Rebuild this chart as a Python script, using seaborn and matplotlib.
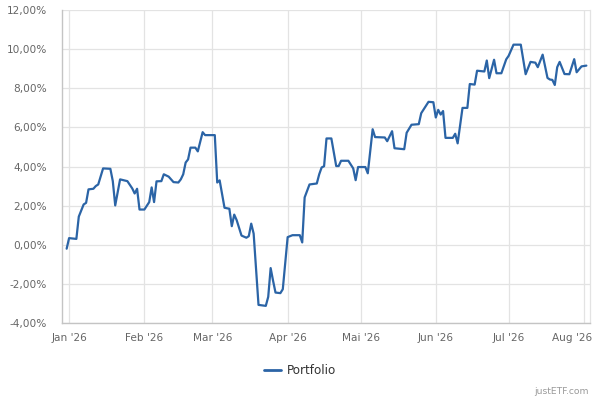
import matplotlib
matplotlib.use("Agg")
import matplotlib.pyplot as plt
import matplotlib.transforms as mtransforms
from matplotlib.ticker import FuncFormatter
from matplotlib.lines import Line2D
import pandas as pd
import seaborn as sns

dates = [
    "2025-12-31", "2026-01-01", "2026-01-04", "2026-01-05", "2026-01-07", "2026-01-08",
    "2026-01-09", "2026-01-11", "2026-01-12", "2026-01-13", "2026-01-15", "2026-01-18",
    "2026-01-19", "2026-01-20", "2026-01-22", "2026-01-25", "2026-01-27", "2026-01-28",
    "2026-01-29", "2026-01-30", "2026-02-01", "2026-02-03", "2026-02-04", "2026-02-05",
    "2026-02-06", "2026-02-08", "2026-02-09", "2026-02-11", "2026-02-13", "2026-02-15",
    "2026-02-16", "2026-02-17", "2026-02-18", "2026-02-19", "2026-02-20", "2026-02-22",
    "2026-02-23", "2026-02-25", "2026-02-26", "2026-03-02", "2026-03-03", "2026-03-04",
    "2026-03-06", "2026-03-08", "2026-03-09", "2026-03-10", "2026-03-11", "2026-03-13",
    "2026-03-15", "2026-03-16", "2026-03-17", "2026-03-18", "2026-03-20", "2026-03-23",
    "2026-03-24", "2026-03-25", "2026-03-26", "2026-03-27", "2026-03-29", "2026-03-30",
    "2026-04-01", "2026-04-03", "2026-04-06", "2026-04-07", "2026-04-08", "2026-04-10",
    "2026-04-13", "2026-04-14", "2026-04-15", "2026-04-16", "2026-04-17", "2026-04-19",
    "2026-04-21", "2026-04-22", "2026-04-23", "2026-04-26", "2026-04-28", "2026-04-29",
    "2026-04-30", "2026-05-03", "2026-05-04", "2026-05-06", "2026-05-07", "2026-05-11",
    "2026-05-12", "2026-05-14", "2026-05-15", "2026-05-19", "2026-05-20", "2026-05-22",
    "2026-05-25", "2026-05-26", "2026-05-27", "2026-05-29", "2026-05-31", "2026-06-01",
    "2026-06-02", "2026-06-03", "2026-06-04", "2026-06-05", "2026-06-08", "2026-06-09",
    "2026-06-10", "2026-06-12", "2026-06-14", "2026-06-15", "2026-06-17", "2026-06-18",
    "2026-06-21", "2026-06-22", "2026-06-23", "2026-06-25", "2026-06-26", "2026-06-28",
    "2026-06-30", "2026-07-01", "2026-07-03", "2026-07-06", "2026-07-08", "2026-07-10",
    "2026-07-12", "2026-07-13", "2026-07-15", "2026-07-17", "2026-07-18", "2026-07-19",
    "2026-07-20", "2026-07-21", "2026-07-22", "2026-07-24", "2026-07-26", "2026-07-28",
    "2026-07-29", "2026-07-31", "2026-08-02",
]

portfolio = [
    -0.19, 0.35, 0.31, 1.45, 2.07, 2.15,
    2.84, 2.87, 3.01, 3.09, 3.91, 3.89,
    3.26, 2.02, 3.35, 3.26, 2.89, 2.63,
    2.87, 1.81, 1.81, 2.19, 2.94, 2.19,
    3.25, 3.26, 3.61, 3.49, 3.21, 3.19,
    3.35, 3.61, 4.21, 4.37, 4.97, 4.97,
    4.78, 5.76, 5.61, 5.61, 3.19, 3.30,
    1.90, 1.85, 0.96, 1.55, 1.27, 0.48,
    0.37, 0.45, 1.09, 0.58, -3.06, -3.11,
    -2.65, -1.18, -1.83, -2.43, -2.46, -2.26,
    0.40, 0.50, 0.50, 0.13, 2.43, 3.09,
    3.14, 3.61, 3.96, 4.02, 5.44, 5.44,
    4.03, 4.03, 4.30, 4.30, 3.91, 3.31,
    3.98, 3.98, 3.66, 5.91, 5.51, 5.49,
    5.30, 5.81, 4.94, 4.89, 5.73, 6.14,
    6.17, 6.73, 6.92, 7.31, 7.29, 6.51,
    6.90, 6.66, 6.84, 5.47, 5.47, 5.68,
    5.19, 7.00, 7.00, 8.22, 8.19, 8.90,
    8.86, 9.42, 8.52, 9.46, 8.77, 8.77,
    9.48, 9.66, 10.23, 10.23, 8.72, 9.35,
    9.31, 9.08, 9.72, 8.53, 8.45, 8.43,
    8.17, 9.08, 9.35, 8.73, 8.72, 9.49,
    8.82, 9.12, 9.16,
]

month_ticks = ["2026-01-01", "2026-02-01", "2026-03-01", "2026-04-01",
               "2026-05-01", "2026-06-01", "2026-07-01", "2026-08-01"]
month_labels = ["Jan '26", "Feb '26", "Mar '26", "Apr '26",
                "Mai '26", "Jun '26", "Jul '26", "Aug '26"]
y_ticks = [-4, -2, 0, 2, 4, 6, 8, 10, 12]
series_name = "Portfolio"

df = pd.DataFrame({"Datum": pd.to_datetime(dates), "Wert": portfolio, "Serie": series_name})

sns.set_style("white")
plt.rcParams["font.family"] = ["DejaVu Sans"]

fig = plt.figure(figsize=(6, 4), dpi=100)
ax = fig.add_axes([62 / 600, 1 - 323.3 / 400, (590 - 62) / 600, (323.3 - 10) / 400])

line_color = "#2b64a6"
sns.lineplot(data=df, x="Datum", y="Wert", hue="Serie", palette=[line_color],
             linewidth=1.6, ax=ax, legend=False)

ax.set_ylim(-4, 12)
ax.set_xlim(pd.Timestamp("2025-12-29 02:00"), pd.Timestamp("2026-08-03 12:00"))
ax.set_yticks(y_ticks)
ax.yaxis.set_major_formatter(FuncFormatter(lambda v, p: f"{v:.2f}%".replace(".", ",")))
ax.set_xticks(pd.to_datetime(month_ticks))
ax.set_xticklabels(month_labels)

grid_color = "#e3e3e3"
ax.grid(True, color=grid_color, linewidth=0.9)
ax.set_axisbelow(True)
ax.spines["top"].set_visible(False)
ax.spines["right"].set_color(grid_color)
ax.spines["right"].set_linewidth(0.9)
ax.spines["left"].set_color("#c4c4c4")
ax.spines["bottom"].set_color("#c4c4c4")
ax.spines["left"].set_linewidth(1.0)
ax.spines["bottom"].set_linewidth(1.0)

ax.tick_params(axis="y", length=0, pad=11, labelsize=7.6, labelcolor="#666666")
ax.tick_params(axis="x", length=0, pad=7, labelsize=7.6, labelcolor="#666666")
ax.set_xlabel("")
ax.set_ylabel("")

# keep the last month label inside the figure, as the reference does
last = ax.get_xticklabels()[-1]
last.set_horizontalalignment("right")
last.set_transform(last.get_transform() +
                   mtransforms.ScaledTranslation(8 / 100, 0, fig.dpi_scale_trans))

handle = Line2D([], [], color=line_color, linewidth=2.0)
fig.legend([handle], [series_name], loc="center", bbox_to_anchor=(0.5, 1 - 371 / 400),
           frameon=False, fontsize=8.6, handlelength=1.4, handletextpad=0.5,
           labelcolor="#333333")

fig.text(589 / 600, 1 - 391 / 400, "justETF.com", ha="right", va="center",
         fontsize=6.6, color="#999999")

fig.savefig("out.png", dpi=100)
